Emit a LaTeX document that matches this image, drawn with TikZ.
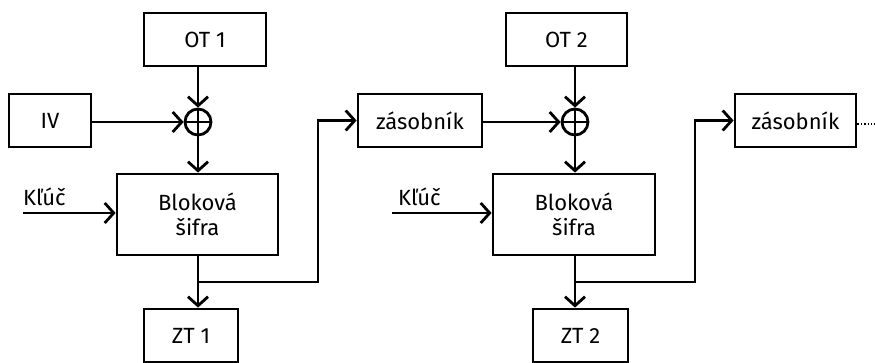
\documentclass[tikz,border=0pt]{standalone}
\usepackage{fontspec}
\setmainfont{Fira Sans}
\usetikzlibrary{arrows.meta}
\tikzset{
    sketch-box/.style = {draw, rectangle, line width=2.8pt, inner sep=2pt, align=center, font=\fontsize{22}{25}\selectfont},
    xor-node/.style = {draw, circle, line width=2.8pt, minimum size=26pt, inner sep=0pt,
        path picture={\draw[line width=2.4pt] (path picture bounding box.north) -- (path picture bounding box.south)
            (path picture bounding box.west) -- (path picture bounding box.east);}},
    flow-arrow/.style = {line width=2.8pt, -{Straight Barb[length=9pt,width=20pt]}},
    key-label/.style = {inner sep=0pt, anchor=west, font=\fontsize{22}{25}\selectfont},
}

\begin{document}
\begin{tikzpicture}[x=1pt, y=-1pt]
\useasboundingbox (0,0) rectangle (875,363);
% first block
\node[sketch-box, minimum width=122pt, minimum height=53pt] (ot1) at (205,39.5) {OT 1};
\node[sketch-box, minimum width=82pt, minimum height=53pt] (iv) at (50,120.5) {IV};
\node[xor-node] (xor1) at (198,122) {};
\node[sketch-box, minimum width=161pt, minimum height=81pt] (blok1) at (197.5,214.5) {Bloková\\šifra};
\node[sketch-box, minimum width=94pt, minimum height=53pt] (zt1) at (191,335.5) {ZT 1};
\node[sketch-box, minimum width=124pt, minimum height=53pt] (zas1) at (420,120.5) {zásobník};
\node[key-label] (key1) at (23,197) {Kľúč};
\coordinate (split1) at (198,282);

% second block
\node[sketch-box, minimum width=121pt, minimum height=53pt] (ot2) at (566.5,39.5) {OT 2};
\node[xor-node] (xor2) at (575,122) {};
\node[sketch-box, minimum width=162pt, minimum height=81pt] (blok2) at (574,214.5) {Bloková\\šifra};
\node[sketch-box, minimum width=95pt, minimum height=53pt] (zt2) at (580.5,335.5) {ZT 2};
\node[sketch-box, minimum width=121pt, minimum height=53pt] (zas2) at (795.5,120.5) {zásobník};
\node[key-label] (key2) at (398,197) {Kľúč};
\coordinate (split2) at (575,282);
\coordinate (more) at (875,124);

% connections
\draw[flow-arrow] (ot1.south -| xor1) -- (xor1);
\draw[flow-arrow] (iv.east |- xor1) -- (xor1);
\draw[flow-arrow] (xor1) -- (xor1 |- blok1.north);
\draw[flow-arrow] (key1.west |- 0,213) -- (blok1.west |- 0,213);
\draw[flow-arrow] (blok1.south -| xor1) -- (xor1 |- zt1.north);
\draw[flow-arrow] (split1) -- ++(120,0) |- (zas1.west);

\draw[flow-arrow] (ot2.south -| xor2) -- (xor2);
\draw[flow-arrow] (zas1.east |- xor2) -- (xor2);
\draw[flow-arrow] (xor2) -- (xor2 |- blok2.north);
\draw[flow-arrow] (key2.west |- 0,213) ++(-6,0) -- (blok2.west |- 0,213);
\draw[flow-arrow] (blok2.south -| xor2) -- (xor2 |- zt2.north);
\draw[flow-arrow] (split2) -- ++(120,0) |- (zas2.west);
\draw[line width=1.4pt, dotted] (zas2.east |- more) -- (more);
\end{tikzpicture}
\end{document}
